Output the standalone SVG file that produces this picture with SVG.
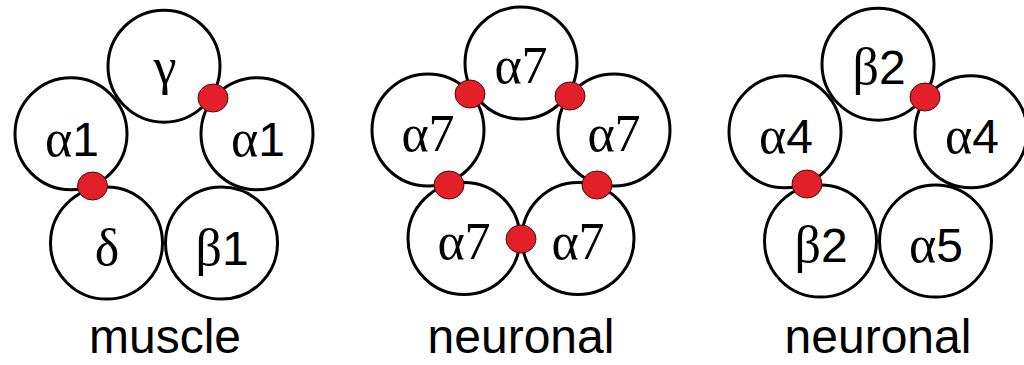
<svg xmlns="http://www.w3.org/2000/svg" width="1024" height="365" viewBox="0 0 1024 365">
<style>
.sub{fill:#fff;stroke:#000;stroke-width:3}
.lbl{font-family:"Liberation Serif","DejaVu Serif",serif;font-size:52px;fill:#000;text-anchor:middle}
.d{font-family:"Liberation Sans",Arial,sans-serif;font-size:48px}
.site{fill:#e3202a;stroke:#4a0a0a;stroke-width:1}
.cap{font-family:"Liberation Sans",Arial,sans-serif;font-size:48px;fill:#000;text-anchor:middle}
</style>
<rect width="1024" height="365" fill="#fff"/>
<g id="muscle">
  <g id="m-gamma"><circle class="sub" cx="164" cy="66.2" r="56"/><text class="lbl" x="165" y="84">γ</text></g>
  <g id="m-alpha1-right"><circle class="sub" cx="257" cy="133.8" r="56"/><text class="lbl" x="258" y="156">α<tspan class="d">1</tspan></text></g>
  <g id="m-beta1"><circle class="sub" cx="221.5" cy="243.1" r="56"/><text class="lbl" x="222" y="265">β<tspan class="d">1</tspan></text></g>
  <g id="m-delta"><circle class="sub" cx="106.5" cy="243.1" r="56"/><text class="lbl" x="107" y="265">δ</text></g>
  <g id="m-alpha1-left"><circle class="sub" cx="71" cy="133.8" r="56"/><text class="lbl" x="72" y="156">α<tspan class="d">1</tspan></text></g>
  <g id="m-sites"><ellipse class="site" cx="213" cy="98" rx="15" ry="14"/><ellipse class="site" cx="92.5" cy="186" rx="15" ry="14"/></g>
  <text id="m-label" class="cap" x="165" y="353">muscle</text>
</g>
<g id="neuronal-a7">
  <g id="n1-top"><circle class="sub" cx="521" cy="63" r="56"/><text class="lbl" x="521" y="83">α7</text></g>
  <g id="n1-right"><circle class="sub" cx="614" cy="130" r="56"/><text class="lbl" x="614" y="151">α7</text></g>
  <g id="n1-bright"><circle class="sub" cx="578" cy="238.5" r="56"/><text class="lbl" x="578" y="259">α7</text></g>
  <g id="n1-bleft"><circle class="sub" cx="464" cy="238.5" r="56"/><text class="lbl" x="464" y="259">α7</text></g>
  <g id="n1-left"><circle class="sub" cx="428" cy="130" r="56"/><text class="lbl" x="428" y="151">α7</text></g>
  <g id="n1-sites">
    <ellipse class="site" cx="470" cy="94" rx="15" ry="14"/>
    <ellipse class="site" cx="570" cy="96" rx="15" ry="14"/>
    <ellipse class="site" cx="597" cy="185" rx="15" ry="14"/>
    <ellipse class="site" cx="521" cy="239" rx="15" ry="14"/>
    <ellipse class="site" cx="449" cy="185" rx="15" ry="14"/>
  </g>
  <text id="n1-label" class="cap" x="521" y="353">neuronal</text>
</g>
<g id="neuronal-a4b2">
  <g id="n2-top"><circle class="sub" cx="878" cy="64.2" r="56"/><text class="lbl" x="879" y="84">β<tspan class="d">2</tspan></text></g>
  <g id="n2-right"><circle class="sub" cx="971" cy="131.8" r="56"/><text class="lbl" x="972" y="153">α<tspan class="d">4</tspan></text></g>
  <g id="n2-bright"><circle class="sub" cx="935.5" cy="241.1" r="56"/><text class="lbl" x="936" y="262">α<tspan class="d">5</tspan></text></g>
  <g id="n2-bleft"><circle class="sub" cx="820.5" cy="241.1" r="56"/><text class="lbl" x="821" y="262">β<tspan class="d">2</tspan></text></g>
  <g id="n2-left"><circle class="sub" cx="785" cy="131.8" r="56"/><text class="lbl" x="786" y="153">α<tspan class="d">4</tspan></text></g>
  <g id="n2-sites">
    <ellipse class="site" cx="925" cy="97" rx="15" ry="14"/>
    <ellipse class="site" cx="807" cy="184" rx="15" ry="14"/>
  </g>
  <text id="n2-label" class="cap" x="878" y="353">neuronal</text>
</g>
</svg>
